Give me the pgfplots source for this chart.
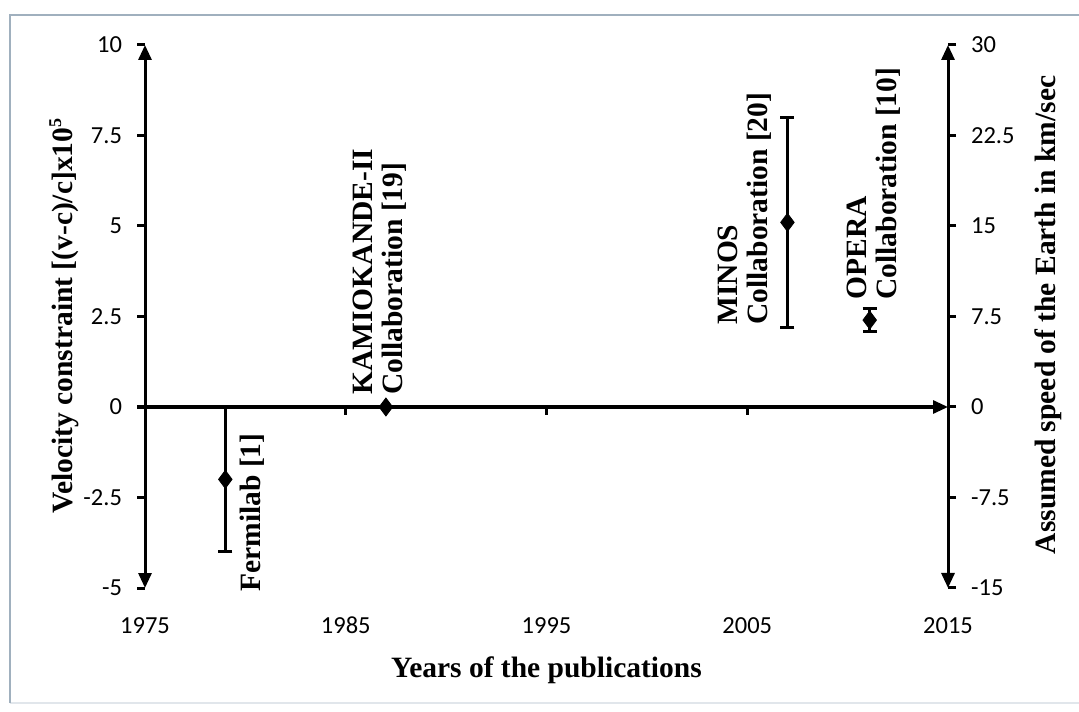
\documentclass[border=0pt]{standalone}
\usepackage{fontspec}
\setmainfont{Liberation Serif}
\newfontfamily\calib{Carlito}
\usepackage{pgfplots}
\pgfplotsset{compat=1.18}
\usetikzlibrary{arrows.meta}
\definecolor{framec}{RGB}{160,176,190}
\definecolor{framel}{RGB}{225,230,235}
\tikzset{arr/.style={line width=1.5pt, {Triangle[width=6.5pt,length=7.5pt]}-{Triangle[width=6.5pt,length=7.5pt]}}}

\pgfplotstableread{
x y e
1979 -2 2
2007 5.1 2.9
2011.1 2.4 0.32
}\errtable
\pgfplotstableread{
x y
1987 0
}\kamtable

\begin{document}
\begin{tikzpicture}
\useasboundingbox (-72.5pt,-61.5pt) rectangle (467pt,294pt);
\draw[framel, line width=1pt] (-67.5pt,-57.5pt) -- (480pt,-57.5pt);
\draw[framec, line width=1pt] (-67.5pt,-57.5pt) -- (-67.5pt,286.5pt) -- (480pt,286.5pt);
\pgfplotsset{
  common/.style={
    scale only axis, width=401.5pt, height=271.5pt,
    at={(0pt,0pt)}, anchor=south west,
    xmin=1975, xmax=2015, clip=false,
    tick align=outside, major tick length=4pt,
    tick style={black, line width=1.5pt},
    ticklabel style={font=\calib\fontsize{12.25}{14}\selectfont},
  },
}
\begin{axis}[common,
  ymin=-5, ymax=10,
  axis y line*=left, axis x line*=bottom,
  x axis line style={draw=none},
  xtick={1975,1985,1995,2005,2015},
  xticklabels={1975,1985,1995,2005,2015},
  xtick style={draw=none},
  xticklabel style={anchor=base, yshift=-18.5pt},
  ytick={-5,-2.5,0,2.5,5,7.5,10},
  yticklabels={-5,-2.5,0,2.5,5,7.5,10},
  yticklabel style={xshift=-4pt},
  y axis line style={arr},
  xlabel={Years of the publications},
  every axis x label/.style={at={(axis description cs:0.5,-0.1639)}, anchor=base, font=\bfseries\fontsize{14.75}{15}\selectfont},
  ylabel={Velocity constraint [(v-c)/c]x10\raisebox{0.8ex}{\fontsize{9}{9}\selectfont 5}},
  every axis y label/.style={at={(axis description cs:-0.0909,0.501)}, anchor=base, rotate=90, font=\bfseries\fontsize{14.75}{15}\selectfont},
]
\addplot[line width=1.5pt, -{Triangle[width=6.5pt,length=7.5pt]}] coordinates {(1975,0) (2015,0)};
\draw[line width=1.5pt] (axis cs:1985,0) -- ++(0pt,-4pt);
\draw[line width=1.5pt] (axis cs:1995,0) -- ++(0pt,-4pt);
\draw[line width=1.5pt] (axis cs:2005,0) -- ++(0pt,-4pt);
\addplot[black, only marks, mark=diamond*, mark size=4.5pt,
  error bars/.cd, y dir=both, y explicit,
  error bar style={line width=1.5pt, black},
  error mark options={rotate=90, black, line width=1.5pt, mark size=3.5pt}]
  table[x=x, y=y, y error=e] {\errtable};
\addplot[black, only marks, mark=diamond*, mark size=4.5pt] table[x=x, y=y] {\kamtable};
\node[rotate=90, anchor=north west, inner sep=0pt, align=left, font=\bfseries\fontsize{14.75}{15}\selectfont] at (axis cs:1979.73,-5.11) {Fermilab [1]};
\node[rotate=90, anchor=north west, inner sep=0pt, align=left, font=\bfseries\fontsize{14.75}{15}\selectfont] at (axis cs:1985.36,0.33) {KAMIOKANDE-II\\Collaboration [19]};
\node[rotate=90, anchor=north west, inner sep=0pt, align=left, font=\bfseries\fontsize{14.75}{15}\selectfont] at (axis cs:2003.54,2.265) {MINOS\\Collaboration [20]};
\node[rotate=90, anchor=north west, inner sep=0pt, align=left, font=\bfseries\fontsize{14.75}{15}\selectfont] at (axis cs:2009.97,2.956) {OPERA\\Collaboration [10]};
\end{axis}
\begin{axis}[common,
  ymin=-15, ymax=30,
  axis y line*=right, axis x line=none,
  ytick={-15,-7.5,0,7.5,15,22.5,30},
  yticklabels={-15,-7.5,0,7.5,15,22.5,30},
  yticklabel style={xshift=4pt},
  y axis line style={arr},
  ylabel={Assumed speed of the Earth in km/sec},
  every axis y label/.style={at={(axis description cs:1.1333,0.503)}, anchor=base, rotate=90, font=\bfseries\fontsize{14.75}{15}\selectfont},
]
\end{axis}
\end{tikzpicture}
\end{document}
